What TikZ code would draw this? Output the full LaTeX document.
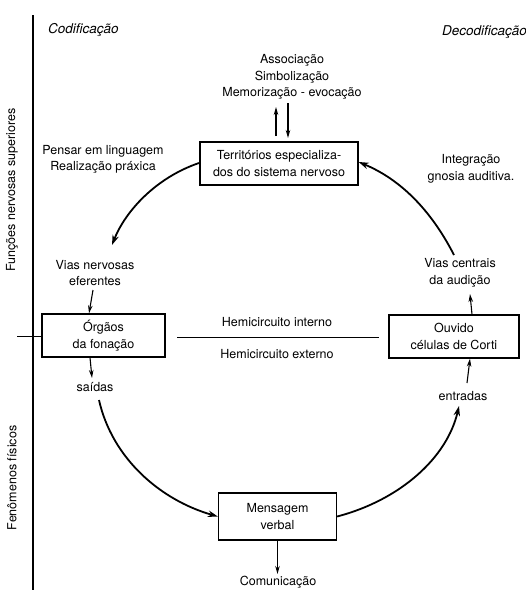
\documentclass[tikz,border=0pt]{standalone}
\usepackage{fontspec}
\setmainfont{TeX Gyre Heros}
\usetikzlibrary{arrows.meta}
\begin{document}
\begin{tikzpicture}[x=1pt,y=-1pt,
  box/.style={draw,line width=1.3pt,align=center,font=\fontsize{12.5}{16.5}\selectfont,inner sep=0pt},
  lbl/.style={align=center,font=\fontsize{12.5}{16.5}\selectfont,inner sep=0pt},
  cyc/.style={line width=1.8pt,-{Stealth[length=10pt,width=6.5pt]}},
  sm/.style={line width=1.1pt,-{Stealth[length=8pt,width=4.5pt]}}]
\useasboundingbox (0,0) rectangle (526,590);
% axis
\draw[line width=1.3pt] (33,15) -- (33,590);
\draw[line width=1pt] (17,336) -- (42,336);
\node[lbl,font=\fontsize{13.5}{15}\selectfont\itshape,anchor=west] (cod) at (48,30) {Codificação};
\node[lbl,font=\fontsize{13.5}{15}\selectfont\itshape,anchor=east] (dec) at (527,32) {Decodificação};
\node[lbl,rotate=90] (fns) at (12,190) {Funções nervosas superiores};
\node[lbl,rotate=90] (fen) at (12,478) {Fenômenos físicos};
% boxes
\node[box,minimum width=158pt,minimum height=43pt] (terr) at (279,163.5) {Territórios especializa-\\dos do sistema nervoso};
\node[box,minimum width=123pt,minimum height=43pt] (org) at (103.5,335.5) {Órgãos\\da fonação};
\node[box,minimum width=130pt,minimum height=43pt] (ouv) at (454,336.5) {Ouvido\\células de Corti};
\node[box,minimum width=118pt,minimum height=47pt] (msg) at (277.5,516.5) {Mensagem\\verbal};
% labels
\node[lbl] (assoc) at (292,77) {Associação\\Simbolização\\Memorização - evocação};
\node[lbl] (pensar) at (103,159.5) {Pensar em linguagem\\Realização práxica};
\node[lbl] (integ) at (471,169) {Integração\\gnosia auditiva.};
\node[lbl] (vne) at (95,273) {Vias nervosas\\eferentes};
\node[lbl] (vca) at (460,273) {Vias centrais\\da audição};
\node[lbl] (hint) at (277,322) {Hemicircuito interno};
\node[lbl] (hext) at (277,354) {Hemicircuito externo};
\node[lbl] (said) at (95,387) {saídas};
\node[lbl] (entr) at (463,396) {entradas};
\node[lbl] (comu) at (278,582) {Comunicação};
% separator
\coordinate (hl) at (177,337);
\coordinate (hr) at (379,337);
\draw[line width=1pt] (hl) -- (hr);
% small arrows to/from territory
\coordinate (up0) at (276,136);
\coordinate (up1) at (276,107);
\coordinate (dn0) at (288,103);
\coordinate (dn1) at (288,138);
\draw[sm] (up0) -- (up1);
\draw[sm] (dn0) -- (dn1);
% cycle
\coordinate (tl) at (199,163);
\coordinate (a1) at (112,245);
\draw[cyc] (tl) .. controls (155,178) and (125,212) .. (a1);
\coordinate (a2s) at (93,290);
\draw[sm] (a2s) -- (org.north -| 89,0);
\draw[sm] (org.south -| 90,0) -- (92,378);
\coordinate (b1) at (99,400);
\draw[cyc] (b1) .. controls (112,458) and (160,500) .. (msg.west);
\draw[cyc] (msg.east) .. controls (400,500) and (447,458) .. (459,406);
\coordinate (en) at (467,383);
\draw[sm] (en) -- (ouv.south -| 470,0);
\draw[sm] (ouv.north -| 472,0) -- (470,294);
\coordinate (c1) at (454,255);
\draw[cyc] (c1) .. controls (432,212) and (402,180) .. (terr.east |- 0,162);
\draw[sm] (msg.south) -- (277.5,574);
\end{tikzpicture}
\end{document}
